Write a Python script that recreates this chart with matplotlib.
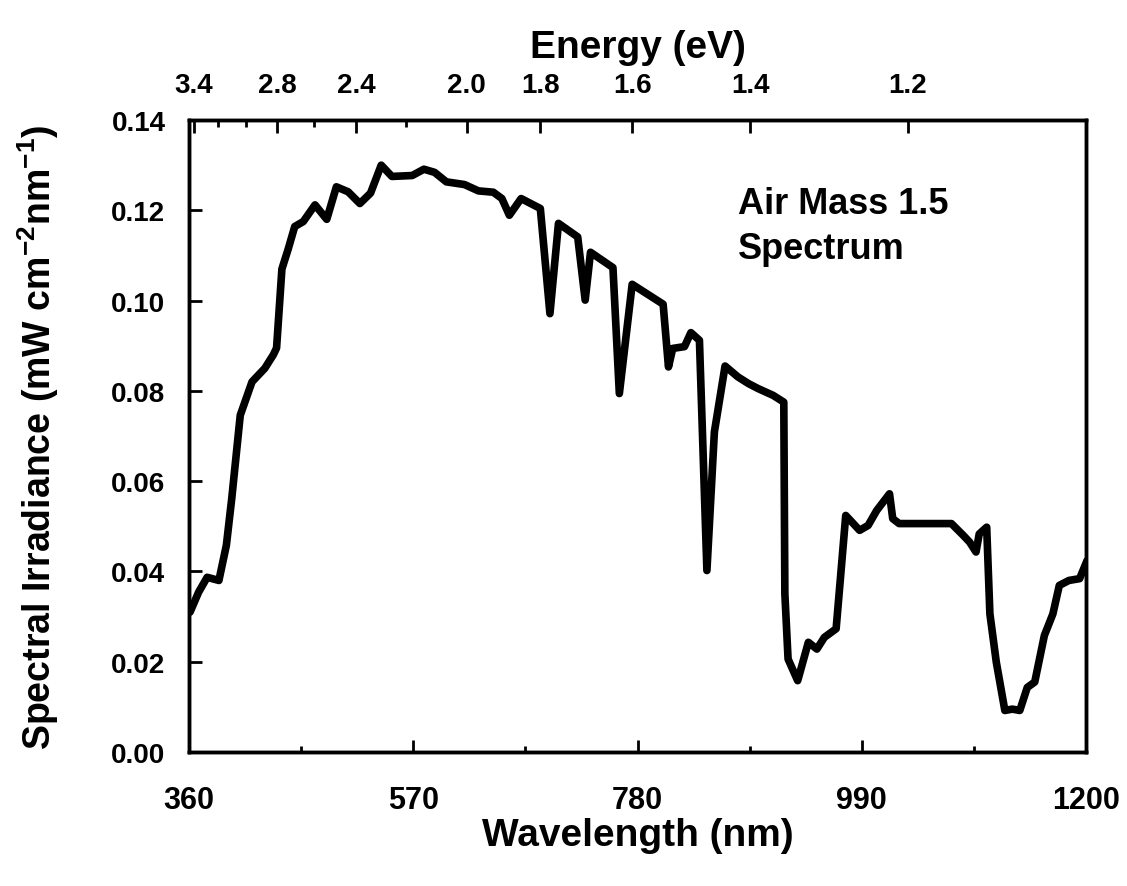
import matplotlib
matplotlib.use('Agg')
import matplotlib.pyplot as plt
from matplotlib.ticker import FixedLocator, NullFormatter

plt.rcParams['font.family'] = ['Liberation Sans', 'DejaVu Sans']
plt.rcParams['font.weight'] = 'bold'
plt.rcParams['mathtext.fontset'] = 'custom'
plt.rcParams['mathtext.rm'] = 'Liberation Sans:bold'
plt.rcParams['mathtext.bf'] = 'Liberation Sans:bold'
plt.rcParams['mathtext.default'] = 'rm'

# AM1.5 spectrum
wavelength = [361, 369, 377, 388, 395, 400, 408, 419, 431, 439, 442, 447, 453, 459, 467, 478, 489,
              498, 509, 520, 530, 540, 550, 569, 580, 590, 601, 618, 631, 645, 653, 660, 671,
              689, 698, 706, 724, 731, 736, 757, 763, 775, 804, 809, 813, 824, 830, 838, 845,
              852, 862, 874, 884, 893, 907, 917, 918, 921, 930, 940, 948, 955, 966, 970, 975,
              988, 996, 1004, 1016, 1019, 1025, 1074, 1085, 1091, 1097, 1100, 1107, 1110, 1116,
              1124, 1131, 1138, 1145, 1152, 1161, 1169, 1175, 1184, 1194, 1201]
irradiance = [0.031, 0.0354, 0.0387, 0.038, 0.0458, 0.0561, 0.0746, 0.082, 0.085, 0.088, 0.0895, 0.107, 0.1115,
              0.1164, 0.1175, 0.1212, 0.118, 0.1252, 0.1241, 0.1215, 0.1238, 0.130, 0.1275, 0.1277,
              0.1291, 0.1284, 0.1263, 0.1257, 0.1243, 0.124, 0.1226, 0.1189, 0.1226, 0.1204, 0.0971,
              0.1171, 0.1141, 0.1001, 0.1107, 0.1073, 0.0794, 0.1036, 0.0992, 0.0853, 0.0894, 0.0898,
              0.0929, 0.0912, 0.0402, 0.0709, 0.0855, 0.0831, 0.0816, 0.0805, 0.079, 0.0775, 0.035,
              0.0206, 0.0158, 0.0243, 0.0228, 0.0254, 0.0273, 0.0384, 0.0524, 0.0491, 0.0502, 0.0535,
              0.0572, 0.0517, 0.0506, 0.0506, 0.048, 0.0465, 0.0443, 0.0483, 0.0498, 0.0306, 0.0199,
              0.0092, 0.0095, 0.0092, 0.0143, 0.0155, 0.0258, 0.0306, 0.0369, 0.038, 0.0384, 0.0424]

wl_ticks = [360, 570, 780, 990, 1200]
wl_minor = [465, 675, 885, 1095]
y_ticks = [0.00, 0.02, 0.04, 0.06, 0.08, 0.10, 0.12, 0.14]
ev_ticks = [3.4, 2.8, 2.4, 2.0, 1.8, 1.6, 1.4, 1.2]
ev_minor = [3.2, 3.0, 2.6, 2.2]

fig = plt.figure(figsize=(11.27, 8.87), dpi=100)
ax = fig.add_axes([189/1127, 1-753/887, (1086-189)/1127, (753-121)/887])

ax.plot(wavelength, irradiance, color='black', linewidth=5.5, solid_joinstyle='round', solid_capstyle='round')
ax.set_xlim(360, 1200)
ax.set_ylim(0, 0.14)

ax.set_xticks(wl_ticks)
ax.set_xticklabels([str(t) for t in wl_ticks])
ax.xaxis.set_minor_locator(FixedLocator(wl_minor))
ax.set_yticks(y_ticks)
ax.set_yticklabels(['%.2f' % t for t in y_ticks])
ax.tick_params(axis='x', which='major', direction='in', length=9, width=2, labelsize=22, pad=24)
ax.tick_params(axis='x', which='minor', direction='in', length=4, width=2)
ax.tick_params(axis='y', which='major', direction='in', length=9, width=2, labelsize=20, pad=17)
for s in ax.spines.values():
    s.set_linewidth(2.5)

ax.set_xlabel('Wavelength (nm)', fontsize=28, fontweight='bold', labelpad=1)
ax.set_ylabel(r'Spectral Irradiance (mW cm$^{-2}$nm$^{-1}$)', fontsize=27, fontweight='bold', labelpad=36)

# energy axis on top
ax2 = ax.twiny()
ax2.set_xlim(ax.get_xlim())
ax2.set_xticks([1240/e for e in ev_ticks])
ax2.set_xticklabels(['%.1f' % e for e in ev_ticks])
ax2.xaxis.set_minor_locator(FixedLocator([1240/e for e in ev_minor]))
ax2.xaxis.set_minor_formatter(NullFormatter())
ax2.tick_params(axis='x', which='major', direction='in', length=9, width=2, labelsize=20, pad=16)
ax2.tick_params(axis='x', which='minor', direction='in', length=5, width=2)
for s in ax2.spines.values():
    s.set_linewidth(2.5)
ax2.set_xlabel('Energy (eV)', fontsize=28, fontweight='bold', labelpad=11)

ax.text(0.612, 0.895, 'Air Mass 1.5\nSpectrum', transform=ax.transAxes, fontsize=26,
        fontweight='bold', va='top', ha='left', linespacing=1.35)

fig.savefig('out.png', dpi=100)
